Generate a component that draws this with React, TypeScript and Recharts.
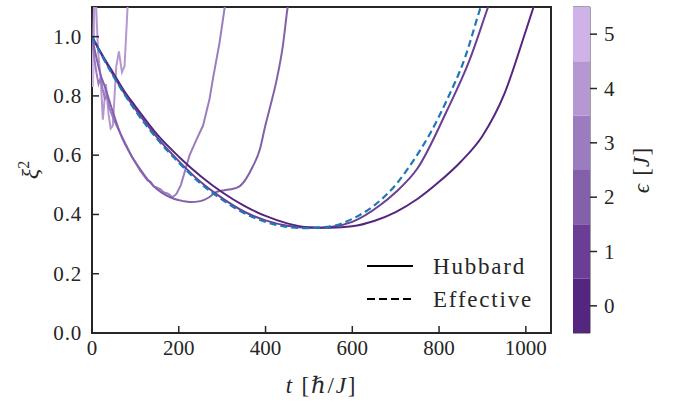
import React from 'react';
import { LineChart, Line, XAxis, YAxis, ReferenceArea, Legend, Label, BarChart, Bar } from 'recharts';

// ---- data ----
const tEps0 = [0, 25, 50, 75, 100, 150, 200, 250, 300, 350, 400, 450, 500, 550, 600, 650, 700, 750, 800, 850, 900, 950, 1000, 1020];
const xiEps0 = [1.0, 0.935, 0.875, 0.815, 0.765, 0.67, 0.595, 0.53, 0.475, 0.43, 0.395, 0.37, 0.357, 0.355, 0.36, 0.378, 0.408, 0.452, 0.51, 0.578, 0.665, 0.805, 1.02, 1.11];

const tEps1 = [0, 25, 50, 75, 100, 150, 200, 250, 300, 350, 400, 450, 500, 550, 600, 663, 700, 750, 818, 870, 913, 925];
const xiEps1 = [1.0, 0.932, 0.868, 0.808, 0.755, 0.66, 0.58, 0.51, 0.455, 0.41, 0.38, 0.362, 0.355, 0.358, 0.375, 0.43, 0.475, 0.555, 0.75, 0.92, 1.1, 1.15];

const tEps2 = [0, 10, 20, 30, 45, 66, 90, 110, 130, 150, 170, 190, 210, 226, 250, 270, 287, 305, 320, 340, 355, 370, 387, 398, 410, 425, 440, 451, 460];
const xiEps2 = [1.0, 0.93, 0.87, 0.83, 0.76, 0.67, 0.6, 0.555, 0.515, 0.485, 0.465, 0.452, 0.445, 0.442, 0.445, 0.458, 0.476, 0.482, 0.485, 0.495, 0.52, 0.56, 0.62, 0.69, 0.76, 0.85, 0.97, 1.1, 1.18];

const tEps3 = [0, 5, 10, 15, 20, 25, 30, 35, 40, 50, 60, 70, 80, 90, 100, 110, 120, 128, 135, 142, 150, 158, 165, 175, 186, 195, 205, 215, 225, 240, 256, 271, 279, 294, 306, 315];
const xiEps3 = [1.0, 0.93, 0.88, 0.84, 0.86, 0.82, 0.79, 0.8, 0.76, 0.72, 0.69, 0.66, 0.63, 0.6, 0.575, 0.55, 0.53, 0.515, 0.51, 0.495, 0.49, 0.485, 0.475, 0.47, 0.458, 0.47, 0.5, 0.55, 0.6, 0.65, 0.7, 0.79, 0.86, 0.98, 1.1, 1.18];

const tEps4 = [0, 2, 5, 9, 14, 20, 25, 32, 38, 43, 48, 56, 62, 69, 75, 82, 88];
const xiEps4 = [1.0, 0.95, 1.12, 1.12, 0.95, 0.86, 0.72, 0.84, 0.74, 0.69, 0.7, 0.9, 0.95, 0.88, 0.9, 1.1, 1.25];

const tEps5 = [0, 2, 4, 6, 8];
const xiEps5 = [1.0, 0.83, 0.9, 1.15, 1.35];

const tEffective = [0, 25, 50, 75, 100, 150, 200, 250, 300, 350, 400, 450, 490, 550, 600, 650, 700, 740, 780, 818, 860, 896, 910];
const xiEffective = [1.0, 0.93, 0.865, 0.805, 0.75, 0.655, 0.575, 0.505, 0.45, 0.405, 0.375, 0.358, 0.354, 0.36, 0.385, 0.43, 0.5, 0.58, 0.675, 0.786, 0.93, 1.1, 1.16];

const epsValues = [0, 1, 2, 3, 4, 5];
const epsColors = ['#54267f', '#6a3e95', '#8360a9', '#9b7cbf', '#b597d2', '#cfb3e8'];
const effectiveColor = '#1f77b4';
const xTicks = [0, 200, 400, 600, 800, 1000];
const yTicks = [0, 0.2, 0.4, 0.6, 0.8, 1.0];
const legendLabels = ['Hubbard', 'Effective'];

const hubbardTimes = [tEps0, tEps1, tEps2, tEps3, tEps4, tEps5];
const hubbardXi = [xiEps0, xiEps1, xiEps2, xiEps3, xiEps4, xiEps5];

const zip = (ts: number[], vs: number[]) => ts.map((t, i) => ({ t, v: vs[i] }));

const FONT = "'Liberation Serif', 'DejaVu Serif', serif";
const INK = '#262626';
const txt = (size: number, spacing = 0): React.CSSProperties => ({ fontFamily: FONT, fontSize: size, fill: INK, letterSpacing: spacing });

const XTick = (props: any) => {
  const { x, y, payload } = props;
  return (
    <g>
      <line x1={x} x2={x} y1={y} y2={y - 7} stroke={INK} strokeWidth={1.5} />
      <text x={x} y={y + 22} textAnchor="middle" style={txt(21)}>
        {payload.value}
      </text>
    </g>
  );
};

const YTick = (props: any) => {
  const { x, y, payload } = props;
  return (
    <g>
      <line x1={x} x2={x + 7} y1={y} y2={y} stroke={INK} strokeWidth={1.5} />
      <text x={x - 10} y={y + 7} textAnchor="end" style={txt(21, 0.8)}>
        {Number(payload.value).toFixed(1)}
      </text>
    </g>
  );
};

const CbTick = (props: any) => {
  const { x, y, payload } = props;
  return (
    <g>
      <line x1={x} x2={x + 7} y1={y} y2={y} stroke={INK} strokeWidth={1.5} />
      <text x={x + 14} y={y + 7} textAnchor="start" style={txt(21)}>
        {Math.round(payload.value - 0.5)}
      </text>
    </g>
  );
};

const LegendContent = () => (
  <svg width={200} height={70} style={{ display: 'block' }}>
    {legendLabels.map((lab, i) => (
      <g key={lab}>
        <line x1={0} x2={46} y1={16 + i * 33} y2={16 + i * 33} stroke="#000" strokeWidth={2}
          strokeDasharray={i === 1 ? '8 4' : undefined} />
        <text x={66} y={24 + i * 33} style={txt(23, 1.8)}>{lab}</text>
      </g>
    ))}
  </svg>
);

const cbRow: any = { name: 'cb' };
epsValues.forEach((e, i) => { cbRow[`b${i}`] = 1; });
const cbData = [cbRow];

export default function App() {
  return (
    <div style={{ position: 'absolute', left: 0, top: 0, width: 680, height: 403, background: '#fff', fontFamily: FONT }}>
      <div style={{ position: 'absolute', left: 0, top: 0 }}>
        <LineChart width={680} height={403} margin={{ top: 7, right: 129, bottom: 40, left: 32 }}>
          <XAxis type="number" dataKey="t" domain={[0, 1058]} ticks={xTicks} allowDataOverflow
            axisLine={false} tickLine={false} tickSize={0} tickMargin={0} height={30} tick={<XTick />}>
            <Label content={(p: any) => {
              const vb = p.viewBox;
              const cx = vb.x + vb.width / 2;
              return (
                <text x={cx} y={vb.y + 60} textAnchor="middle" style={txt(23, 1.8)}>
                  <tspan fontStyle="italic">t</tspan> [<tspan fontStyle="italic">ℏ</tspan>/<tspan fontStyle="italic">J</tspan>]
                </text>
              );
            }} />
          </XAxis>
          <YAxis type="number" domain={[0, 1.1]} ticks={yTicks} allowDataOverflow width={60}
            axisLine={false} tickLine={false} tickSize={0} tickMargin={0} tick={<YTick />}>
            <Label content={(p: any) => {
              const vb = p.viewBox;
              const cx = vb.x + 6;
              const cy = vb.y + vb.height / 2;
              return (
                <text x={cx} y={cy} transform={`rotate(-90, ${cx}, ${cy})`} textAnchor="middle" style={txt(24)}>
                  <tspan fontStyle="italic">ξ</tspan><tspan dy={-9} fontSize={16}>2</tspan>
                </text>
              );
            }} />
          </YAxis>
          <ReferenceArea x1={0} x2={1058} y1={0} y2={1.1} fill="none" stroke={INK} strokeWidth={2} ifOverflow="visible" />
          {epsValues.slice().reverse().map((e) => (
            <Line key={e} data={zip(hubbardTimes[e], hubbardXi[e])} dataKey="v" type={e <= 2 ? 'monotone' : 'linear'}
              stroke={epsColors[e]} strokeWidth={2} dot={false} isAnimationActive={false} />
          ))}
          <Line data={zip(tEffective, xiEffective)} dataKey="v" type="monotone" stroke={effectiveColor}
            strokeWidth={2.2} strokeDasharray="7 4" dot={false} isAnimationActive={false} />
          <Legend layout="vertical" align="center" verticalAlign="middle" content={<LegendContent />}
            wrapperStyle={{ position: 'absolute', left: 367, top: 250, width: 200, height: 70 }} />
        </LineChart>
      </div>
      <div style={{ position: 'absolute', left: 573, top: 0 }}>
        <BarChart width={107} height={403} data={cbData} margin={{ top: 7, right: 0, bottom: 70, left: 0 }}
          barCategoryGap={0}>
          <XAxis dataKey="name" hide />
          <YAxis orientation="right" type="number" domain={[0, epsValues.length]} ticks={epsValues.map((e) => e + 0.5)}
            width={90} axisLine={false} tickLine={false} tickSize={0} tickMargin={0} tick={<CbTick />}>
            <Label content={(p: any) => {
              const vb = p.viewBox;
              const cx = vb.x + 59;
              const cy = vb.y + vb.height / 2;
              return (
                <text x={cx} y={cy} transform={`rotate(-90, ${cx}, ${cy})`} textAnchor="middle" style={txt(23, 1.2)}>
                  <tspan fontStyle="italic">ϵ</tspan> [<tspan fontStyle="italic">J</tspan>]
                </text>
              );
            }} />
          </YAxis>
          {epsValues.map((e, i) => (
            <Bar key={e} dataKey={`b${i}`} stackId="s" fill={epsColors[i]} isAnimationActive={false} />
          ))}
          <ReferenceArea y1={0} y2={epsValues.length} fill="none" stroke="#444" strokeWidth={1} ifOverflow="visible" />
        </BarChart>
      </div>
    </div>
  );
}
